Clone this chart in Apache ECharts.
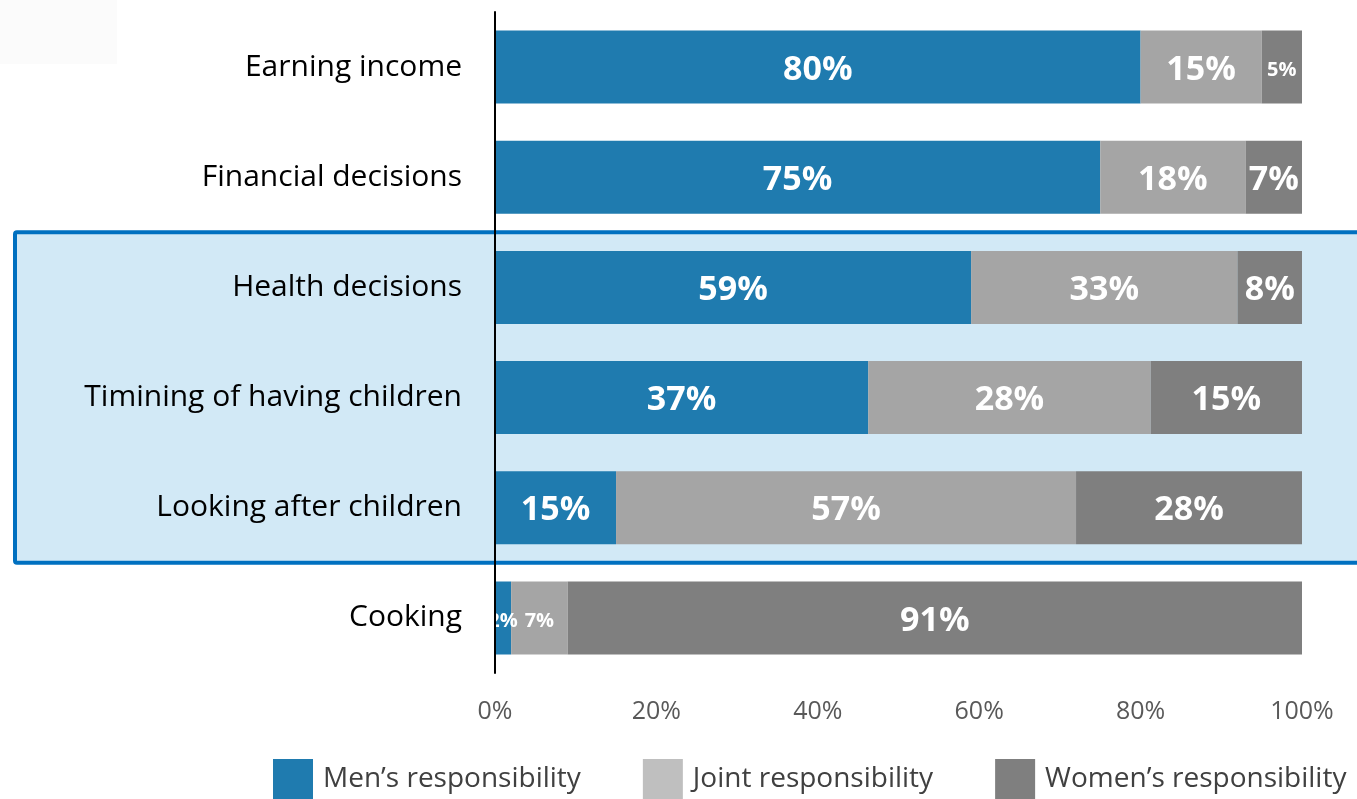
<!DOCTYPE html>
<html>
<head>
<meta charset="utf-8">
<script src="https://cdn.jsdelivr.net/npm/echarts@6/dist/echarts.min.js"></script>
<style>
  html, body { margin: 0; padding: 0; background: #ffffff; }
  #chart { width: 1357px; height: 799px; }
</style>
</head>
<body>
<div id="chart"></div>
<script>
// Who holds responsibility for household decisions (answers in %)
const categories = [
  "Earning income",
  "Financial decisions",
  "Health decisions",
  "Timining of having children",
  "Looking after children",
  "Cooking"
];
const menValues   = [80, 75, 59, 37, 15, 2];
const jointValues = [15, 18, 33, 28, 57, 7];
const womenValues = [5, 7, 8, 15, 28, 91];
const seriesNames = ["Men’s responsibility", "Joint responsibility", "Women’s responsibility"];
const xTickValues = [0, 20, 40, 60, 80, 100];

// Rows grouped inside the highlight frame
const highlightFrom = "Health decisions";
const highlightTo = "Looking after children";

// Segments whose labels are set in a smaller size (narrow slices)
const compactLabels = {
  "Earning income": [2],
  "Cooking": [0, 1]
};

const FONT = "'Open Sans', 'Noto Sans', sans-serif";
const colors = ["#1f7baf", "#a5a5a5", "#7f7f7f"];
const legendColors = ["#1f7baf", "#bfbfbf", "#7f7f7f"];

// each bar is drawn as its share of the row total, so every row fills 0–100%
const totals = categories.map((_, i) => menValues[i] + jointValues[i] + womenValues[i]);
const allValues = [menValues, jointValues, womenValues];

function makeSeries(k) {
  const values = allValues[k];
  return {
    name: seriesNames[k],
    type: "bar",
    stack: "total",
    barWidth: 73,
    z: 3,
    itemStyle: { color: colors[k] },
    data: values.map((v, i) => v / totals[i] * 100),
    label: {
      show: true,
      position: "inside",
      offset: [0, 3],
      color: "#ffffff",
      fontFamily: FONT,
      fontWeight: "bold",
      fontSize: 34,
      formatter: function (p) {
        const txt = values[p.dataIndex] + "%";
        const small = compactLabels[categories[p.dataIndex]];
        if (small && small.indexOf(k) >= 0) {
          return "{s|" + txt + "}";
        }
        return txt;
      },
      rich: {
        s: { fontSize: 20, fontWeight: "bold", color: "#ffffff", fontFamily: FONT }
      }
    }
  };
}

const chart = echarts.init(document.getElementById("chart"), null, { renderer: "canvas" });

const option = {
  animation: false,
  backgroundColor: "#ffffff",
  grid: { left: 495, right: 55, top: 12, bottom: 126, containLabel: false },
  legend: {
    left: 268,
    top: 754,
    icon: "rect",
    itemWidth: 40,
    itemHeight: 40,
    itemGap: 62,
    textStyle: { fontSize: 28, color: "#404040", fontFamily: FONT, padding: [0, 0, 0, 5] },
    data: seriesNames.map((n, k) => ({ name: n, itemStyle: { color: legendColors[k] } }))
  },
  xAxis: {
    type: "value",
    min: xTickValues[0],
    max: xTickValues[xTickValues.length - 1],
    interval: xTickValues[1] - xTickValues[0],
    axisLine: { show: false },
    axisTick: { show: false },
    splitLine: { show: false },
    axisLabel: {
      formatter: "{value}%",
      color: "#595959",
      fontSize: 25,
      fontFamily: FONT,
      margin: 26
    }
  },
  yAxis: {
    type: "category",
    inverse: true,
    data: categories,
    z: 5,
    axisLine: { show: true, lineStyle: { color: "#000000", width: 2 } },
    axisTick: { show: false },
    axisLabel: { fontSize: 30, color: "#000000", fontFamily: FONT, margin: 33, padding: [4, 0, 0, 0] }
  },
  series: [makeSeries(0), makeSeries(1), makeSeries(2)]
};

chart.setOption(option);

// Frame around the grouped rows, spanning from the left edge past the plot's right side
function drawFrame() {
  const y0 = chart.convertToPixel({ yAxisIndex: 0 }, categories[0]);
  const y1 = chart.convertToPixel({ yAxisIndex: 0 }, categories[1]);
  const band = Math.abs(y1 - y0);
  const top = chart.convertToPixel({ yAxisIndex: 0 }, highlightFrom) - band / 2;
  const bottom = chart.convertToPixel({ yAxisIndex: 0 }, highlightTo) + band / 2;
  chart.setOption({
    graphic: [
      {
        type: "rect",
        z: -10,
        silent: true,
        shape: { x: 0, y: 0, width: 117, height: 64 },
        style: { fill: "#fbfbfb" }
      },
      {
        type: "rect",
        z: -10,
        silent: true,
        shape: { x: 15, y: top, width: chart.getWidth() + 20, height: bottom - top, r: 2 },
        style: { fill: "#d2e9f6", stroke: "#0070c0", lineWidth: 4 }
      }
    ]
  });
}
drawFrame();
</script>
</body>
</html>
